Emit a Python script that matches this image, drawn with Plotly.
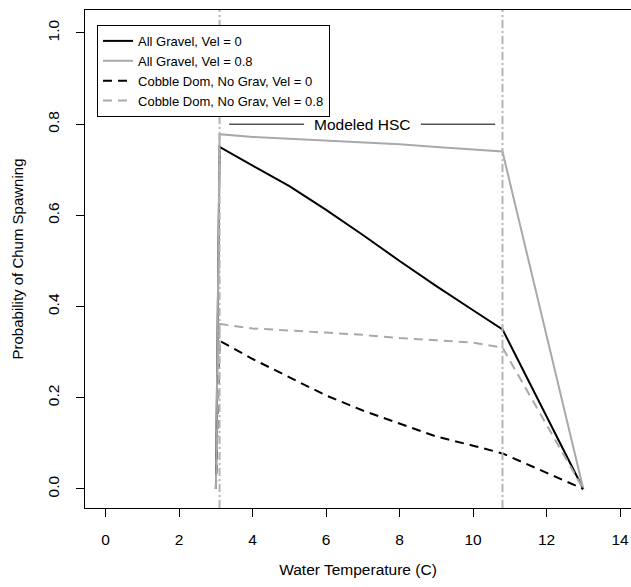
import plotly.graph_objects as go

# ---- data ----
temp_x = [3.0, 3.1, 4, 5, 6, 7, 8, 9, 10, 10.8, 13]
gravel_vel0 = [0.0, 0.750, 0.709, 0.664, 0.612, 0.557, 0.500, 0.445, 0.392, 0.350, 0.0]
gravel_vel08 = [0.0, 0.778, 0.772, 0.768, 0.764, 0.760, 0.756, 0.750, 0.745, 0.740, 0.0]
cobble_vel0 = [0.0, 0.325, 0.285, 0.245, 0.205, 0.172, 0.143, 0.115, 0.095, 0.078, 0.0]
cobble_vel08 = [0.0, 0.362, 0.352, 0.348, 0.343, 0.338, 0.331, 0.326, 0.321, 0.310, 0.0]

series_names = ["All Gravel, Vel = 0", "All Gravel, Vel = 0.8",
                "Cobble Dom, No Grav, Vel = 0", "Cobble Dom, No Grav, Vel = 0.8"]

hsc_bounds = [3.1, 10.8]
hsc_label = "Modeled HSC"
hsc_label_x = 7.0
hsc_label_y = 0.8
hsc_left_seg = [3.36, 5.40]
hsc_right_seg = [8.58, 10.60]

x_ticks = [0, 2, 4, 6, 8, 10, 12, 14]
y_ticks = [0.0, 0.2, 0.4, 0.6, 0.8, 1.0]
y_tick_labels = ["0.0", "0.2", "0.4", "0.6", "0.8", "1.0"]

FONT = "Liberation Sans, Arial, Helvetica, sans-serif"
GRAY = "#a9a9a9"
VGRAY = "#b4b4b4"

fig = go.Figure()

styles = [
    dict(color="black", dash="solid"),
    dict(color=GRAY, dash="solid"),
    dict(color="black", dash="9px,6px"),
    dict(color=GRAY, dash="9px,6px"),
]
for name, ys, st in zip(series_names, [gravel_vel0, gravel_vel08, cobble_vel0, cobble_vel08], styles):
    fig.add_trace(go.Scatter(x=temp_x, y=ys, mode="lines", name=name,
                             line=dict(color=st["color"], dash=st["dash"], width=2)))

# HSC bounds (vertical dash-dot lines)
for xb in hsc_bounds:
    fig.add_vline(x=xb, line=dict(color=VGRAY, width=2, dash="8px,3px,2px,3px"))

# HSC label segments
for seg in [hsc_left_seg, hsc_right_seg]:
    fig.add_trace(go.Scatter(x=seg, y=[hsc_label_y, hsc_label_y], mode="lines",
                             line=dict(color="black", width=1), showlegend=False, hoverinfo="skip"))

fig.add_annotation(x=hsc_label_x, y=hsc_label_y, text=hsc_label, showarrow=False,
                   font=dict(family=FONT, size=15.5, color="black"), xanchor="center", yanchor="middle")

fig.update_layout(
    width=631, height=587,
    margin=dict(l=85, r=0, t=10, b=79),
    plot_bgcolor="white", paper_bgcolor="white",
    font=dict(family=FONT, size=15.5, color="black"),
    showlegend=True,
    legend=dict(x=0.022, y=0.970, xanchor="left", yanchor="top",
                bordercolor="black", borderwidth=1, bgcolor="white",
                font=dict(family=FONT, size=13, color="black"),
                tracegroupgap=0, itemwidth=30),
)

fig.update_xaxes(range=[-0.563, 14.298], tickmode="array", tickvals=x_ticks,
                 ticktext=[str(v) for v in x_ticks],
                 showgrid=False, zeroline=False, showline=True, mirror=True,
                 linecolor="black", linewidth=1, ticks="outside", ticklen=8,
                 tickcolor="black", tickwidth=1, ticklabelstandoff=9,
                 title=dict(text="Water Temperature (C)", standoff=17,
                            font=dict(family=FONT, size=15.5)))
fig.update_yaxes(range=[-0.0417, 1.0504], tickmode="array", tickvals=y_ticks,
                 ticktext=y_tick_labels, tickangle=-90,
                 showgrid=False, zeroline=False, showline=True, mirror=False,
                 linecolor="black", linewidth=1, ticks="outside", ticklen=8,
                 tickcolor="black", tickwidth=1, ticklabelstandoff=11,
                 title=dict(text="Probability of Chum Spawning", standoff=17,
                            font=dict(family=FONT, size=15)))

fig.write_html("out.html")
